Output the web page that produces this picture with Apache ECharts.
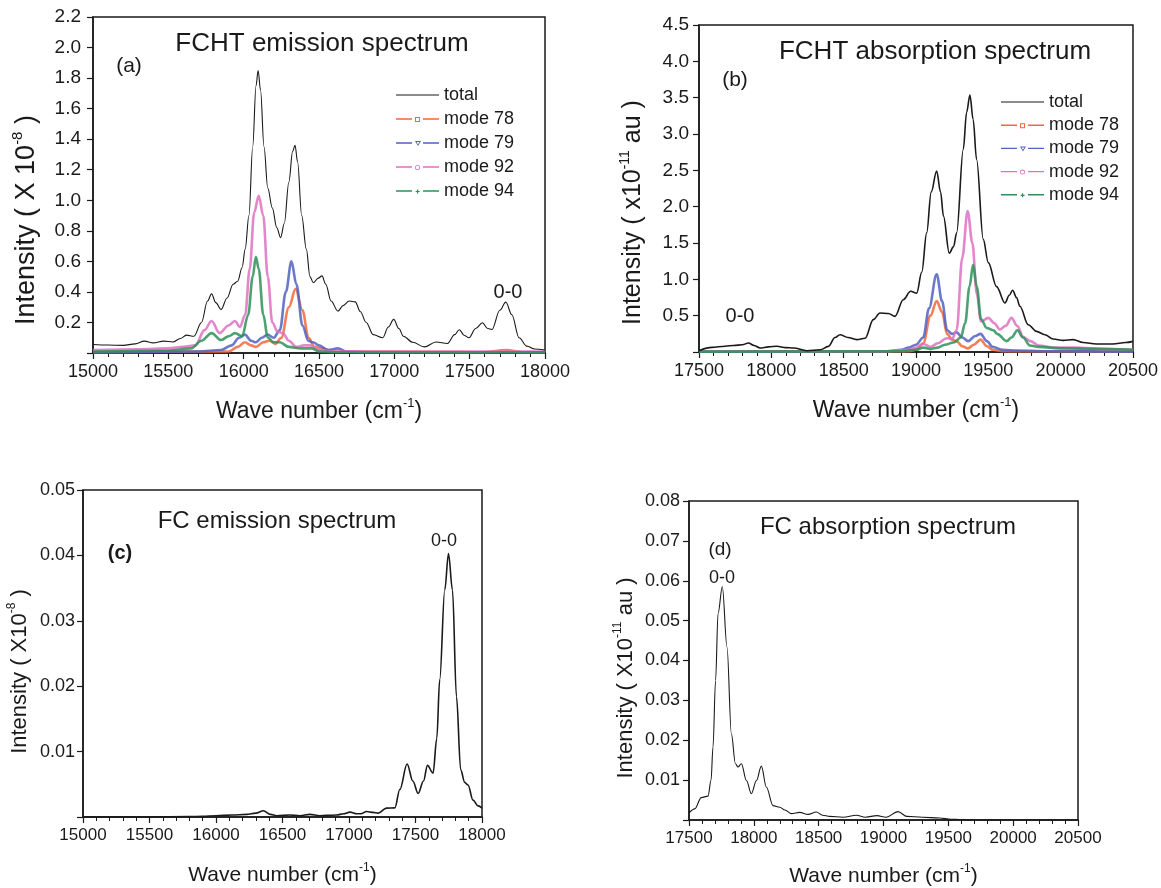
<!DOCTYPE html>
<html>
<head>
<meta charset="utf-8">
<script src="https://cdn.jsdelivr.net/npm/echarts@6/dist/echarts.min.js"></script>
<style>
html,body{margin:0;padding:0;background:#fff;}
#chart{width:1161px;height:888px;}
</style>
</head>
<body>
<div id="chart"></div>
<script>
// ---------- data (wave number cm^-1, intensity) ----------
const seriesNames = ['total', 'mode 78', 'mode 79', 'mode 92', 'mode 94'];

// (a) FCHT emission, intensity x1e-8
const aTotal = [[15000,0.056],[15100,0.052],[15200,0.05],[15280,0.06],[15340,0.078],[15400,0.066],[15470,0.078],[15530,0.072],[15580,0.095],[15620,0.117],[15670,0.11],[15720,0.2],[15760,0.34],[15787,0.387],[15815,0.33],[15850,0.285],[15890,0.36],[15930,0.45],[15960,0.47],[15990,0.56],[16010,0.68],[16035,0.9],[16060,1.35],[16082,1.75],[16096,1.85],[16112,1.72],[16135,1.35],[16160,1.08],[16190,0.95],[16220,0.82],[16245,0.755],[16270,0.85],[16300,1.12],[16325,1.32],[16341,1.36],[16358,1.25],[16385,0.9],[16416,0.68],[16440,0.5],[16462,0.46],[16495,0.49],[16520,0.505],[16545,0.45],[16580,0.34],[16626,0.274],[16660,0.31],[16700,0.34],[16740,0.335],[16775,0.27],[16813,0.2],[16860,0.12],[16923,0.1],[16960,0.17],[16996,0.22],[17030,0.16],[17060,0.11],[17122,0.07],[17199,0.04],[17277,0.072],[17353,0.062],[17400,0.12],[17431,0.152],[17465,0.115],[17495,0.1],[17540,0.16],[17585,0.198],[17620,0.16],[17648,0.154],[17700,0.28],[17740,0.333],[17780,0.25],[17828,0.1],[17880,0.045],[17930,0.026],[18000,0.02]];
const aMode78 = [[15000,0.005],[15900,0.01],[15960,0.04],[16008,0.07],[16050,0.05],[16081,0.04],[16130,0.07],[16170,0.08],[16210,0.06],[16250,0.1],[16300,0.3],[16345,0.42],[16390,0.28],[16430,0.1],[16470,0.04],[16520,0.03],[16600,0.01],[17600,0.005],[17740,0.02],[17850,0.005],[18000,0.005]];
const aMode79 = [[15000,0.005],[15700,0.01],[15850,0.02],[15920,0.05],[15970,0.1],[16008,0.12],[16050,0.08],[16081,0.07],[16120,0.1],[16158,0.12],[16200,0.1],[16240,0.15],[16280,0.4],[16317,0.6],[16350,0.45],[16390,0.18],[16430,0.08],[16460,0.07],[16500,0.05],[16560,0.02],[16626,0.03],[16680,0.01],[16800,0.005],[18000,0.005]];
const aMode92 = [[15000,0.02],[15300,0.025],[15500,0.03],[15600,0.04],[15680,0.05],[15740,0.15],[15787,0.21],[15840,0.13],[15900,0.18],[15942,0.21],[15975,0.17],[16010,0.25],[16040,0.55],[16070,0.92],[16100,1.03],[16130,0.9],[16160,0.5],[16190,0.2],[16225,0.14],[16260,0.13],[16300,0.08],[16350,0.04],[16400,0.05],[16440,0.05],[16500,0.02],[16600,0.01],[17000,0.01],[18000,0.01]];
const aMode94 = [[15000,0.01],[15500,0.015],[15650,0.03],[15720,0.08],[15787,0.13],[15850,0.085],[15900,0.11],[15942,0.13],[15990,0.11],[16030,0.25],[16060,0.5],[16081,0.63],[16100,0.55],[16130,0.25],[16160,0.1],[16200,0.07],[16240,0.07],[16300,0.04],[16380,0.03],[16450,0.03],[16500,0.01],[16600,0.005],[18000,0.005]];

// (b) FCHT absorption, intensity x1e-11 au
const bTotal = [[17500,0.018],[17590,0.063],[17680,0.08],[17740,0.09],[17800,0.1],[17842,0.124],[17880,0.09],[17923,0.055],[17980,0.07],[18038,0.08],[18100,0.06],[18153,0.055],[18245,0.018],[18338,0.03],[18395,0.077],[18440,0.2],[18475,0.238],[18530,0.2],[18591,0.17],[18648,0.19],[18705,0.445],[18751,0.537],[18809,0.53],[18855,0.49],[18912,0.72],[18963,0.835],[19005,0.81],[19040,1.1],[19074,1.64],[19105,2.2],[19143,2.49],[19170,2.2],[19190,1.87],[19230,1.36],[19260,1.45],[19281,1.64],[19327,2.79],[19350,3.3],[19373,3.535],[19395,3.2],[19419,2.65],[19465,1.55],[19500,1.23],[19557,0.9],[19615,0.675],[19645,0.78],[19668,0.85],[19695,0.75],[19718,0.63],[19776,0.376],[19833,0.284],[19891,0.238],[19948,0.179],[20017,0.16],[20086,0.17],[20155,0.13],[20247,0.11],[20362,0.11],[20450,0.13],[20500,0.146]];
const bMode78 = [[17500,0.005],[18950,0.01],[19000,0.03],[19050,0.12],[19100,0.5],[19143,0.7],[19180,0.55],[19215,0.25],[19250,0.17],[19280,0.15],[19320,0.08],[19360,0.05],[19400,0.1],[19446,0.17],[19490,0.08],[19530,0.03],[19600,0.01],[20500,0.005]];
const bMode79 = [[17500,0.005],[18800,0.01],[18900,0.03],[18950,0.06],[19000,0.1],[19050,0.2],[19090,0.6],[19143,1.07],[19180,0.7],[19215,0.3],[19250,0.25],[19281,0.27],[19320,0.2],[19360,0.15],[19410,0.22],[19446,0.25],[19490,0.15],[19530,0.07],[19600,0.03],[19700,0.02],[19900,0.01],[20500,0.005]];
const bMode92 = [[17500,0.01],[18800,0.01],[18950,0.03],[19000,0.06],[19050,0.11],[19100,0.07],[19150,0.12],[19212,0.19],[19250,0.18],[19281,0.3],[19320,1.3],[19357,1.94],[19390,1.5],[19420,0.8],[19450,0.42],[19500,0.47],[19540,0.4],[19580,0.31],[19620,0.36],[19660,0.47],[19700,0.36],[19740,0.21],[19790,0.15],[19850,0.09],[19950,0.06],[20100,0.06],[20300,0.04],[20500,0.03]];
const bMode94 = [[17500,0.005],[18900,0.01],[19000,0.03],[19050,0.06],[19100,0.04],[19150,0.06],[19200,0.1],[19260,0.13],[19310,0.2],[19340,0.4],[19370,0.9],[19395,1.2],[19420,0.9],[19450,0.45],[19490,0.33],[19535,0.3],[19560,0.25],[19627,0.15],[19660,0.2],[19702,0.3],[19740,0.2],[19787,0.09],[19850,0.07],[20000,0.05],[20500,0.03]];

// (c) FC emission, intensity x1e-8
const cTotal = [[15000,0],[15500,0],[15800,0.00005],[15900,0.0001],[16000,0.0002],[16120,0.0003],[16231,0.0004],[16300,0.0006],[16356,0.00095],[16410,0.0004],[16456,0.0002],[16556,0.0003],[16631,0.0002],[16706,0.0004],[16780,0.0002],[16831,0.00025],[16906,0.0003],[16960,0.0005],[17007,0.00075],[17060,0.0005],[17090,0.0005],[17132,0.00085],[17180,0.0007],[17219,0.0006],[17282,0.00135],[17345,0.0014],[17382,0.0042],[17437,0.0081],[17480,0.0055],[17520,0.0036],[17560,0.0055],[17590,0.0079],[17632,0.0067],[17660,0.012],[17682,0.021],[17720,0.0347],[17748,0.0403],[17778,0.0347],[17808,0.0184],[17840,0.0072],[17870,0.0053],[17895,0.0049],[17932,0.0026],[17970,0.0017],[18000,0.00135]];

// (d) FC absorption, intensity x1e-11 au
const dTotal = [[17500,0.0017],[17544,0.0028],[17595,0.0056],[17647,0.006],[17670,0.01],[17685,0.0183],[17705,0.035],[17724,0.0518],[17757,0.0585],[17793,0.0434],[17827,0.0216],[17858,0.0141],[17878,0.0133],[17904,0.0141],[17943,0.0099],[17981,0.0066],[18020,0.0099],[18058,0.0135],[18097,0.0082],[18148,0.0036],[18200,0.0032],[18240,0.0025],[18290,0.0016],[18354,0.0019],[18418,0.0014],[18482,0.002],[18530,0.0012],[18585,0.0009],[18688,0.0007],[18791,0.0012],[18860,0.0007],[18950,0.0011],[19020,0.0007],[19112,0.0021],[19180,0.0009],[19300,0.0007],[19433,0.0005],[19520,0.0002],[19600,0.0001],[19700,0],[20500,0]];

// axis ranges
const xRangeA = [15000, 18000];
const xRangeB = [17500, 20500];
const yRangeA = [0, 2.2, 0.2];
const yRangeB = [0, 4.5, 0.5];
const yRangeC = [0, 0.05, 0.01];
const yRangeD = [0, 0.08, 0.01];

// ---------- styling ----------
const FONT = '"Liberation Sans", Arial, Helvetica, sans-serif';
const INK = '#1a1a1a';
const modeColors = {'mode 78': '#F2683A', 'mode 79': '#5062C2', 'mode 92': '#DE72C2', 'mode 94': '#2F9158'};
const modeSymbols = {'mode 78': 'emptyRect', 'mode 79': 'emptyTriangle', 'mode 92': 'emptyCircle', 'mode 94': 'path://M4,0H6V4H10V6H6V10H4V6H0V4H4Z'};

// legend icons: line - marker - line (box 43 x 6, corner specks keep the box)
const BOX = 'M0,0H0.01V0.01H0Z M43,6H42.99V5.99H43Z ';
const DASHES = 'M0,2.3H16V3.7H0Z M27,2.3H43V3.7H27Z ';
const legendIcons = {
  'total': 'path://' + BOX + 'M0,2.4H43V3.6H0Z',
  'mode 78': 'path://' + BOX + DASHES + 'M19,1H24V6H19Z M20,2V5H23V2Z',
  'mode 79': 'path://' + BOX + DASHES + 'M19,1H25L22,6Z M20.6,2L22,4.4L23.4,2Z',
  'mode 92': 'path://' + BOX + DASHES + 'M24,3.5A2.5,2.5 0 1 1 19,3.5A2.5,2.5 0 1 1 24,3.5Z M23.2,3.5A1.7,1.7 0 1 0 19.8,3.5A1.7,1.7 0 1 0 23.2,3.5Z',
  'mode 94': 'path://' + BOX + DASHES + 'M21,1.5H22.2V2.9H23.6V4.1H22.2V5.5H21V4.1H19.6V2.9H21Z'
};

function richName(fs) {
  return {
    n: {fontSize: fs, fontFamily: FONT, color: INK, lineHeight: fs + 6},
    s: {fontSize: Math.round(fs * 0.55), fontFamily: FONT, color: INK, verticalAlign: 'top', lineHeight: Math.round(fs * 0.6)}
  };
}
function xAxisCfg(gi, range, fs, nameFs, gap) {
  return {
    type: 'value', gridIndex: gi, min: range[0], max: range[1], interval: 500,
    axisLine: {show: true, onZero: false, lineStyle: {color: INK, width: 1.5}},
    axisTick: {show: true, inside: false, length: 6, lineStyle: {color: INK, width: 1.2}},
    minorTick: {show: true, splitNumber: 5, length: 4, lineStyle: {color: INK, width: 1}},
    splitLine: {show: false}, minorSplitLine: {show: false},
    axisLabel: {color: INK, fontSize: fs, fontFamily: FONT, margin: 10, formatter: v => String(v)},
    name: '{n|Wave number (cm}{s|-1}{n|)}',
    nameLocation: 'middle', nameGap: gap,
    nameTextStyle: {rich: richName(nameFs)}
  };
}
function yAxisCfg(gi, range, dec, fs, nameRich, nameFs, gap, shift, margin) {
  return {
    type: 'value', gridIndex: gi, min: range[0], max: range[1], interval: range[2],
    axisLine: {show: true, onZero: false, lineStyle: {color: INK, width: 1.5}},
    axisTick: {show: true, inside: false, length: 6, lineStyle: {color: INK, width: 1.2}},
    splitLine: {show: false},
    axisLabel: {color: INK, fontSize: fs, fontFamily: FONT, margin: margin,
      formatter: v => (Math.abs(v) < 1e-12 ? '' : v.toFixed(dec))},
    name: nameRich, nameLocation: 'middle', nameGap: gap, nameRotate: 90,
    nameTextStyle: {padding: [0, shift, 0, 0], rich: richName(nameFs)}
  };
}
function totalSeries(data, gi, width) {
  return {name: 'total', type: 'line', xAxisIndex: gi, yAxisIndex: gi, data: data,
    smooth: 0.35, smoothMonotone: 'x', symbol: 'none', clip: true, z: 5,
    lineStyle: {color: INK, width: width}, itemStyle: {color: INK}};
}
function modeSeries(name, data, gi) {
  const c = modeColors[name];
  return {name: name, type: 'line', xAxisIndex: gi, yAxisIndex: gi, data: data,
    smooth: 0.35, smoothMonotone: 'x', clip: true, z: 3,
    symbol: modeSymbols[name], symbolSize: 5, symbolRotate: name === 'mode 79' ? 180 : 0,
    showSymbol: false,
    lineStyle: {color: c, width: 2.6, opacity: 0.85},
    itemStyle: {color: c, borderColor: c, borderWidth: 1}};
}
function legendCfg(left, top, gap) {
  return {
    data: seriesNames.map(n => ({name: n, icon: legendIcons[n]})),
    orient: 'vertical', left: left, top: top, padding: 0,
    itemWidth: 43, itemHeight: 6, itemGap: gap, selectedMode: false,
    symbolKeepAspect: true,
    itemStyle: {borderWidth: 0},
    textStyle: {color: INK, fontSize: 18, fontFamily: FONT}
  };
}
function label(text, x, y, size, bold) {
  return {type: 'text', x: x, y: y, silent: true, z: 10,
    style: {text: text, fill: INK, font: (bold ? 'bold ' : '') + size + 'px ' + FONT,
      textAlign: 'center', textVerticalAlign: 'middle'}};
}

const option = {
  backgroundColor: '#ffffff',
  animation: false,
  grid: [
    {left: 93, top: 17, width: 452, height: 336, show: true, borderColor: INK, borderWidth: 1.5, backgroundColor: 'transparent'},
    {left: 699, top: 25, width: 434, height: 327, show: true, borderColor: INK, borderWidth: 1.5, backgroundColor: 'transparent'},
    {left: 83, top: 490, width: 399, height: 327, show: true, borderColor: INK, borderWidth: 1.5, backgroundColor: 'transparent'},
    {left: 689, top: 501, width: 389, height: 319, show: true, borderColor: INK, borderWidth: 1.5, backgroundColor: 'transparent'}
  ],
  xAxis: [
    xAxisCfg(0, xRangeA, 18, 23, 44),
    xAxisCfg(1, xRangeB, 18, 23, 44),
    xAxisCfg(2, xRangeA, 17, 21, 45),
    xAxisCfg(3, xRangeB, 17, 21, 43)
  ],
  yAxis: [
    yAxisCfg(0, yRangeA, 1, 19, '{n|Intensity ( X 10}{s|-8}{n| )}', 27, 50, 70, 12),
    yAxisCfg(1, yRangeB, 1, 19, '{n|Intensity ( x10}{s|-11}{n| au )}', 25, 50, 48, 10),
    yAxisCfg(2, yRangeC, 2, 18, '{n|Intensity ( X10}{s|-8}{n| )}', 22, 49, 36, 8),
    yAxisCfg(3, yRangeD, 2, 18, '{n|Intensity ( X10}{s|-11}{n| au )}', 22, 49, 35, 9)
  ],
  legend: [legendCfg(396, 86, 6), legendCfg(1001, 93, 5.2)],
  series: [
    totalSeries(aTotal, 0, 1.1),
    modeSeries('mode 78', aMode78, 0),
    modeSeries('mode 79', aMode79, 0),
    modeSeries('mode 92', aMode92, 0),
    modeSeries('mode 94', aMode94, 0),
    totalSeries(bTotal, 1, 1.6),
    modeSeries('mode 78', bMode78, 1),
    modeSeries('mode 79', bMode79, 1),
    modeSeries('mode 92', bMode92, 1),
    modeSeries('mode 94', bMode94, 1),
    totalSeries(cTotal, 2, 1.6),
    totalSeries(dTotal, 3, 1.1)
  ],
  graphic: [
    label('FCHT emission spectrum', 322, 44, 26),
    label('(a)', 129, 66, 21),
    label('0-0', 508, 292, 20),
    label('FCHT absorption spectrum', 935, 52, 26),
    label('(b)', 735, 80, 21),
    label('0-0', 740, 316, 20),
    label('FC emission spectrum', 277, 521, 24),
    label('(c)', 120, 553, 20, true),
    label('0-0', 444, 541, 18),
    label('FC absorption spectrum', 888, 527, 24),
    label('(d)', 720, 550, 19),
    label('0-0', 722, 578, 18)
  ]
};

const chart = echarts.init(document.getElementById('chart'), null, {renderer: 'canvas'});
chart.setOption(option);
</script>
</body>
</html>
